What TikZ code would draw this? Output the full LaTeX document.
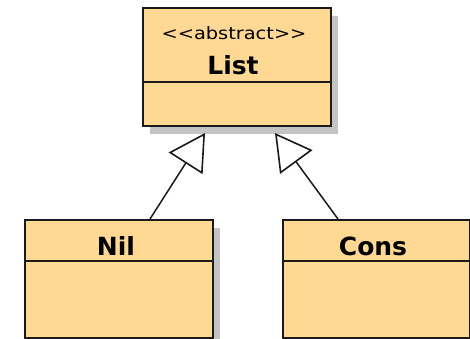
\documentclass[tikz,border=0pt]{standalone}
\usepackage{fontspec}
\setmainfont{DejaVu Sans}
\newfontfamily\stereofont[FakeStretch=1.14]{DejaVu Sans}
\usetikzlibrary{arrows.meta,shadows}
\definecolor{classfill}{HTML}{FFD993}
\definecolor{classline}{HTML}{1A1A1A}
\definecolor{shadowgray}{HTML}{C4C4C4}
\tikzset{
  classbox/.style={draw=classline, line width=1.8pt, fill=classfill,
    rectangle, inner sep=0pt, anchor=north west,
    drop shadow={shadow xshift=7pt, shadow yshift=-8pt, fill=shadowgray, opacity=1}},
  compline/.style={draw=classline, line width=1.8pt},
  classname/.style={anchor=base, inner sep=0pt, font=\fontsize{25}{29}\selectfont\bfseries},
  stereo/.style={anchor=base, inner sep=0pt, font=\fontsize{17}{20}\selectfont\stereofont},
  inherit/.style={draw=classline, line width=1.5pt,
    -{Triangle[open, length=36pt, width=40pt, line width=1.6pt]}}
}
\begin{document}
\begin{tikzpicture}[x=1pt,y=-1pt]
  \useasboundingbox (0,0) rectangle (470,339);
  \fill[white] (0,0) rectangle (470,339);

  % abstract base class
  \node[classbox, minimum width=188pt, minimum height=118pt] (list) at (142,7) {};
  \draw[compline] ([yshift=-75pt]list.north west) -- ([yshift=-75pt]list.north east);
  \node[stereo] (liststereo) at (234,40) {<<abstract>>};
  \node[classname] (listname) at (233,75) {List};

  % concrete subclasses
  \node[classbox, minimum width=188pt, minimum height=118pt] (nil) at (24,219) {};
  \draw[compline] ([yshift=-42pt]nil.north west) -- ([yshift=-42pt]nil.north east);
  \node[classname] (nilname) at (116,255) {Nil};

  \node[classbox, minimum width=187pt, minimum height=118pt] (cons) at (282,219) {};
  \draw[compline] ([yshift=-42pt]cons.north west) -- ([yshift=-42pt]cons.north east);
  \node[classname] (consname) at (373,255) {Cons};

  % generalization arrows
  \coordinate (nilend) at (150,219);
  \coordinate (consend) at (338,219);
  \coordinate (tipl) at (205,133);
  \coordinate (tipr) at (275,133);
  \draw[inherit] (nilend) -- (tipl);
  \draw[inherit] (consend) -- (tipr);
\end{tikzpicture}
\end{document}
